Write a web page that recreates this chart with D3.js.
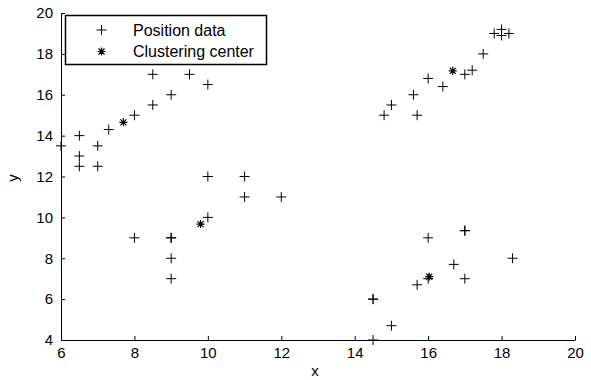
<!DOCTYPE html>
<html>
<head>
<meta charset="utf-8">
<script src="https://cdn.jsdelivr.net/npm/d3@7"></script>
<style>
  body { margin: 0; background: #fff; }
  svg { display: block; font-family: "Liberation Sans", Arial, sans-serif; }
  .axis path, .axis line { stroke: #000; }
  .axis text { fill: #000; font-size: 15px; }
</style>
</head>
<body>
<div id="chart"></div>
<script>
// position data (x, y)
const posX = [6, 6.5, 6.5, 6.5, 7, 7, 7.3, 8, 8.5, 8.5, 9, 9.5, 10,
  10, 11, 11, 12, 10, 8, 9, 9, 9, 9,
  14.5, 14.5, 14.5, 15, 15.7, 16, 16, 16.7, 17, 17, 17, 18.3,
  14.8, 15, 15.6, 15.7, 16, 16.4, 17, 17.2, 17.5, 17.8, 18, 18, 18.2];
const posY = [13.5, 14, 13, 12.5, 13.5, 12.5, 14.3, 15, 17, 15.5, 16, 17, 16.5,
  12, 12, 11, 11, 10, 9, 9, 9, 8, 7,
  6, 6, 4, 4.7, 6.7, 7, 9, 7.7, 7, 9.35, 9.35, 8,
  15, 15.5, 16, 15, 16.8, 16.4, 17, 17.2, 18, 19, 19.2, 18.9, 19];

// clustering centers
const centerX = [7.7, 9.8, 16.03, 16.67];
const centerY = [14.65, 9.67, 7.1, 17.17];

const xTicks = [6, 8, 10, 12, 14, 16, 18, 20];
const yTicks = [4, 6, 8, 10, 12, 14, 16, 18, 20];
const legendLabels = ['Position data', 'Clustering center'];

const W = 591, H = 380;
const margin = { top: 13, right: 16, bottom: 40, left: 61 };

const svg = d3.select('#chart').append('svg')
    .attr('width', W)
    .attr('height', H);

const x = d3.scaleLinear().domain([6, 20]).range([margin.left, W - margin.right]);
const y = d3.scaleLinear().domain([4, 20]).range([H - margin.bottom, margin.top]);

svg.append('g')
    .attr('class', 'axis')
    .attr('transform', `translate(0,${H - margin.bottom})`)
    .call(d3.axisBottom(x).tickValues(xTicks).tickFormat(d3.format('d'))
        .tickSizeInner(-4).tickSizeOuter(0).tickPadding(7));

svg.append('g')
    .attr('class', 'axis')
    .attr('transform', `translate(${margin.left},0)`)
    .call(d3.axisLeft(y).tickValues(yTicks).tickFormat(d3.format('d'))
        .tickSizeInner(-4).tickSizeOuter(0).tickPadding(8));

svg.selectAll('.axis text').attr('font-family', null);
svg.selectAll('.axis').attr('font-family', null).attr('font-size', null);

// axis labels
svg.append('text')
    .attr('x', 315).attr('y', 376)
    .attr('text-anchor', 'middle')
    .style('font-size', '15px')
    .text('x');

svg.append('text')
    .attr('transform', 'translate(18,178) rotate(-90)')
    .attr('text-anchor', 'middle')
    .style('font-size', '15px')
    .text('y');

const plusPath = 'M-5,0H5M0,-5V5';
const starPath = 'M-4,0H4M0,-4V4M-3,-3L3,3M-3,3L3,-3';

const posData = posX.map((v, i) => ({ x: v, y: posY[i] }));
const centerData = centerX.map((v, i) => ({ x: v, y: centerY[i] }));

svg.append('g').selectAll('path')
    .data(posData)
    .enter().append('path')
    .attr('d', plusPath)
    .attr('transform', d => `translate(${x(d.x)},${y(d.y)})`)
    .attr('stroke', '#000')
    .attr('stroke-width', 1)
    .attr('fill', 'none');

svg.append('g').selectAll('path')
    .data(centerData)
    .enter().append('path')
    .attr('d', starPath)
    .attr('transform', d => `translate(${x(d.x)},${y(d.y)})`)
    .attr('stroke', '#000')
    .attr('stroke-width', 1.2)
    .attr('fill', 'none');

// legend
const legend = svg.append('g');
legend.append('rect')
    .attr('x', 65.5).attr('y', 15.5)
    .attr('width', 201).attr('height', 49)
    .attr('fill', '#fff')
    .attr('stroke', '#000')
    .attr('stroke-width', 1.5);

legend.append('path')
    .attr('d', plusPath)
    .attr('transform', 'translate(101.5,30)')
    .attr('stroke', '#000').attr('fill', 'none');
legend.append('path')
    .attr('d', starPath)
    .attr('transform', 'translate(101.5,51.5)')
    .attr('stroke', '#000').attr('stroke-width', 1.2).attr('fill', 'none');

legend.selectAll('text.leg')
    .data(legendLabels)
    .enter().append('text')
    .attr('class', 'leg')
    .attr('x', 133)
    .attr('y', (d, i) => 35.5 + i * 21.5)
    .style('font-size', '16px')
    .text(d => d);
</script>
</body>
</html>
